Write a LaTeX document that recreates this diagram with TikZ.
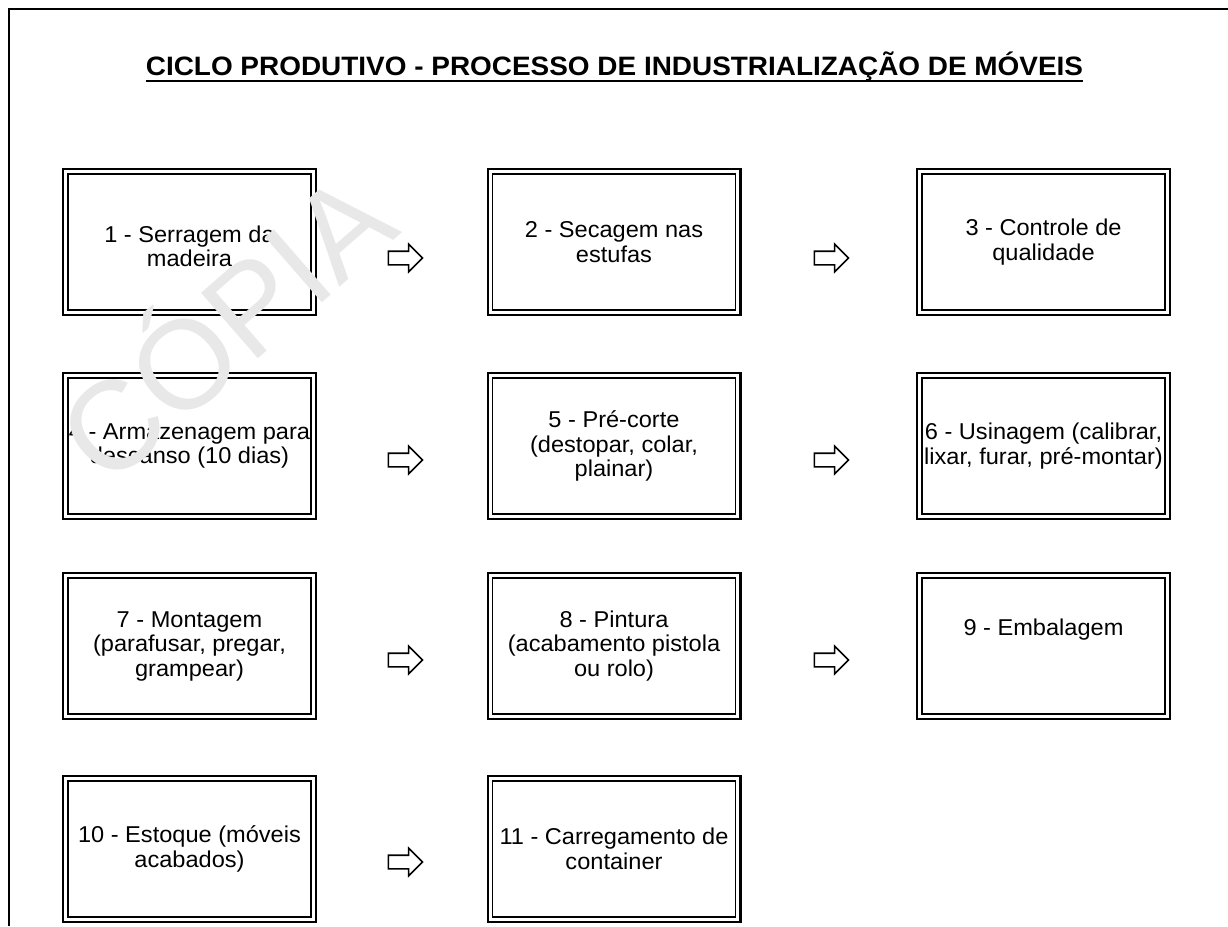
\documentclass[tikz,border=0pt]{standalone}
\usepackage{fontspec}
\setmainfont[FakeStretch=1.03]{Liberation Sans}
\newfontfamily\titlefont[FakeStretch=1.05]{Liberation Sans}
\newfontfamily\wmfont{Liberation Sans}
\usetikzlibrary{shapes.arrows}
\begin{document}
\begin{tikzpicture}[x=1pt,y=1pt,
  box/.style={draw, line width=2.2pt, minimum width=252.8pt, minimum height=145.8pt,
    inner sep=0pt, outer sep=0pt, align=center, font=\fontsize{22.9}{24.5}\selectfont},
  innerline/.style={line width=1.3pt},
  arr/.style={single arrow, draw, line width=1.6pt, inner xsep=0pt, inner ysep=6pt,
    minimum height=34pt, minimum width=0pt, single arrow head extend=7pt, outer sep=0pt},
  frame/.style={line width=2.4pt}]
\useasboundingbox (0,0) rectangle (1228,-926);
% frame
\draw[frame] (8,-9) -- (1228,-9);
\draw[line width=1.4pt] (9,-9) -- (9,-926);
% title
\node[font=\titlefont\bfseries\fontsize{26.6}{30}\selectfont, inner sep=0pt, anchor=base] (title) at (614.5,-75) {CICLO PRODUTIVO - PROCESSO DE INDUSTRIALIZAÇÃO DE MÓVEIS};
\draw[line width=2pt] ([yshift=-5.5pt]title.base west) -- ([yshift=-5.5pt]title.base east);
% boxes
\node[box] (b1) at (189.5,-242) {\raisebox{-14pt}[0pt][0pt]{\begin{tabular}{@{}c@{}}1 - Serragem da\\madeira\end{tabular}}};
\node[box] (b2) at (614,-242) {2 - Secagem nas\\estufas};
\node[box] (b3) at (1043.5,-242) {3 - Controle de\\qualidade};
\node[box] (b4) at (189.5,-446) {4 - Armazenagem para\\descanso (10 dias)};
\node[box] (b5) at (614,-446) {5 - Pré-corte\\(destopar, colar,\\plainar)};
\node[box] (b6) at (1043.5,-446) {6 - Usinagem (calibrar,\\lixar, furar, pré-montar)};
\node[box] (b7) at (189.5,-646) {7 - Montagem\\(parafusar, pregar,\\grampear)};
\node[box] (b8) at (614,-646) {8 - Pintura\\(acabamento pistola\\ou rolo)};
\node[box] (b9) at (1043.5,-646) {\raisebox{11pt}[0pt][0pt]{9 - Embalagem}};
\node[box] (b10) at (189.5,-849) {10 - Estoque (móveis\\acabados)};
\node[box] (b11) at (614,-849) {11 - Carregamento de\\container};
\foreach \n in {b1,b2,b3,b4,b5,b6,b7,b8,b9,b10,b11}
  \draw[innerline] ([shift={(5,-5)}]\n.north west) rectangle ([shift={(-5,5)}]\n.south east);
% arrows
\node[arr] (a12) at (402,-258) {};
\node[arr] (a23) at (828,-258) {};
\node[arr] (a45) at (402,-460) {};
\node[arr] (a56) at (828,-460) {};
\node[arr] (a78) at (402,-660) {};
\node[arr] (a89) at (828,-660) {};
\node[arr] (a1011) at (402,-862) {};
% watermark
\node[rotate=41, text=black!9, font=\wmfont\fontsize{126}{126}\selectfont, inner sep=0pt] (wm) at (220,-320) {CÓPIA};
\end{tikzpicture}
\end{document}
